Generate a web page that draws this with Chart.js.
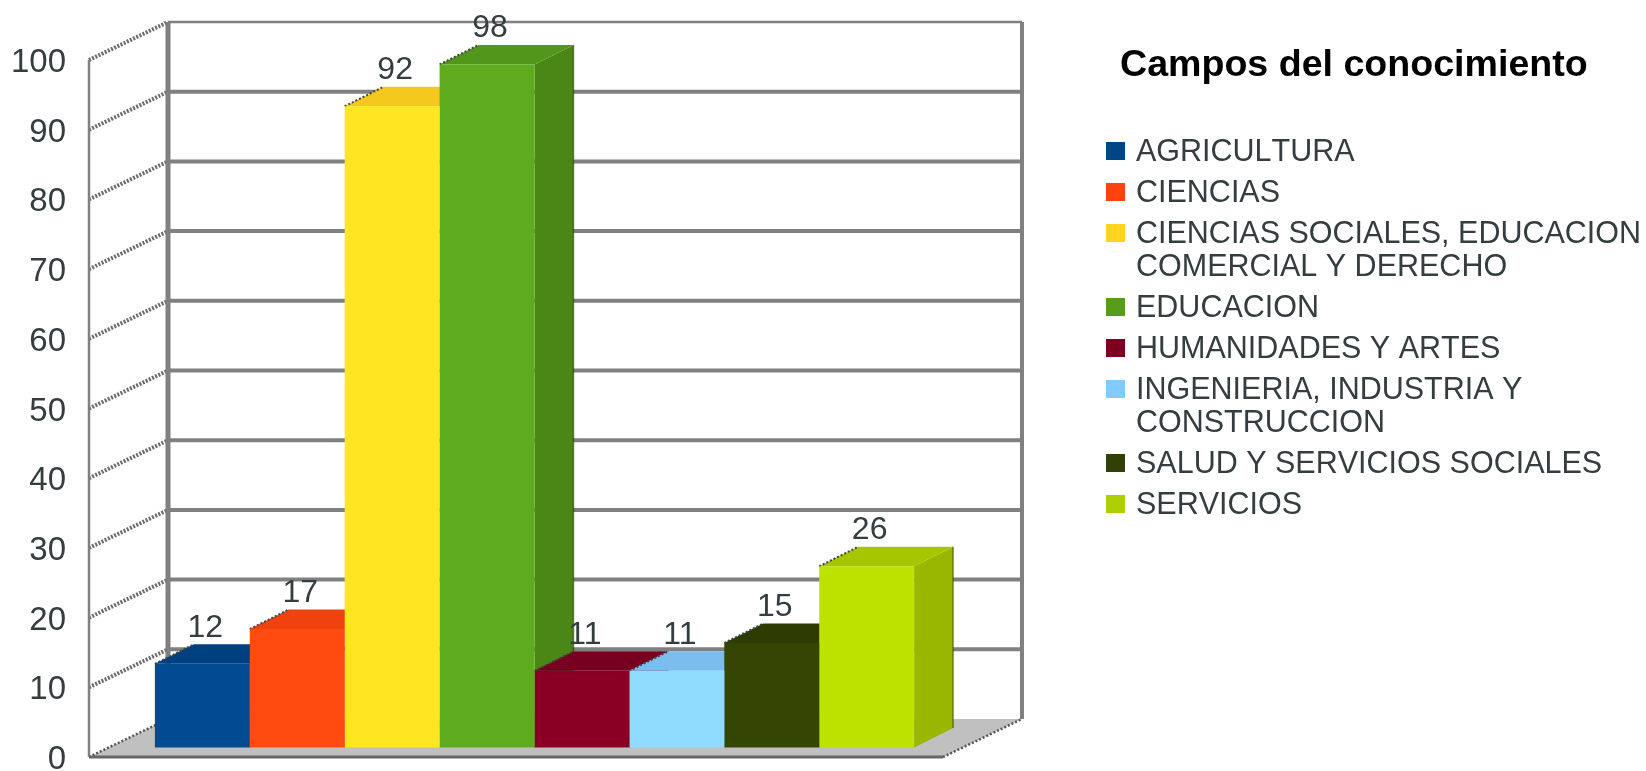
<!DOCTYPE html>
<html>
<head>
<meta charset="utf-8">
<style>html,body{margin:0;padding:0;background:#fff}canvas{display:block}</style>
<script src="https://cdn.jsdelivr.net/npm/chart.js@4/dist/chart.umd.min.js"></script>
</head>
<body>
<canvas id="c" width="1646" height="771"></canvas>
<script>
const categories = [""];
const seriesNames = [
  "AGRICULTURA",
  "CIENCIAS",
  "CIENCIAS SOCIALES, EDUCACION COMERCIAL Y DERECHO",
  "EDUCACION",
  "HUMANIDADES Y ARTES",
  "INGENIERIA, INDUSTRIA Y CONSTRUCCION",
  "SALUD Y SERVICIOS SOCIALES",
  "SERVICIOS"
];
const seriesValues = [12, 17, 92, 98, 11, 11, 15, 26];
const legendTitle = "Campos del conocimiento";
const legendLines = [
  ["AGRICULTURA"],
  ["CIENCIAS"],
  ["CIENCIAS SOCIALES, EDUCACION", "COMERCIAL Y DERECHO"],
  ["EDUCACION"],
  ["HUMANIDADES Y ARTES"],
  ["INGENIERIA, INDUSTRIA Y", "CONSTRUCCION"],
  ["SALUD Y SERVICIOS SOCIALES"],
  ["SERVICIOS"]
];
const frontColors  = ["#004b92","#ff4a10","#ffe620","#5fab1e","#890024","#90dcff","#354604","#bee200"];
const topColors    = ["#004080","#f0420e","#f5c81e","#52961b","#770020","#7cbdf0","#2e3c04","#a6c600"];
const sideColors   = ["#003b70","#d0380c","#d8b01a","#4a8717","#6a001c","#70aadd","#283403","#9ab700"];
const legendColors = ["#004586","#ff420e","#ffd320","#579d1c","#7e0021","#83caff","#314004","#aecf00"];

const FONT = '"Liberation Sans", Arial, sans-serif';
const TEXT = "#343d40";
const WALL = { dx: 79, dy: -38 };
const BAR_OFFSET = { dx: 18.5, dy: -9.5 };
const BAR_DEPTH = { dx: 39, dy: -19.5 };

function poly(ctx, pts, fill) {
  ctx.beginPath();
  pts.forEach((p, i) => i ? ctx.lineTo(p[0], p[1]) : ctx.moveTo(p[0], p[1]));
  ctx.closePath();
  ctx.fillStyle = fill;
  ctx.fill();
}
function line(ctx, x0, y0, x1, y1, color, width, dash) {
  ctx.save();
  ctx.beginPath();
  ctx.moveTo(x0, y0);
  ctx.lineTo(x1, y1);
  ctx.strokeStyle = color;
  ctx.lineWidth = width;
  ctx.setLineDash(dash || []);
  ctx.stroke();
  ctx.restore();
}

const scene3d = {
  id: "scene3d",
  beforeDatasetsDraw(chart) {
    const ctx = chart.ctx, a = chart.chartArea, y = chart.scales.y;
    const y0 = y.getPixelForValue(0);
    poly(ctx, [[a.left, y0], [a.left + WALL.dx, y0 + WALL.dy], [a.right + WALL.dx, y0 + WALL.dy], [a.right, y0]], "#c0c0c0");
    y.ticks.forEach(t => {
      const py = y.getPixelForValue(t.value);
      if (t.value > 0) {
        const isTop = t.value === y.max;
        line(ctx, a.left + WALL.dx, py + WALL.dy, a.right + WALL.dx, py + WALL.dy, "#808080", isTop ? 2.5 : 4);
        line(ctx, a.left, py, a.left + WALL.dx, py + WALL.dy, "#6a6a6a", 4, [2, 1.5]);
      } else {
        line(ctx, a.left, py, a.left + WALL.dx, py + WALL.dy, "#555555", 2.5, [2, 2]);
        line(ctx, a.right, py, a.right + WALL.dx, py + WALL.dy, "#555555", 2.5, [2, 2]);
      }
    });
    line(ctx, a.left + WALL.dx, y.getPixelForValue(100) + WALL.dy, a.left + WALL.dx, y0 + WALL.dy, "#808080", 5);
    line(ctx, a.right + WALL.dx, y.getPixelForValue(100) + WALL.dy, a.right + WALL.dx, y0 + WALL.dy, "#808080", 4);
    line(ctx, a.left, y.getPixelForValue(100), a.left, y0, "#808080", 2.5);
    line(ctx, a.left, y0, a.right, y0, "#666666", 3);

    ctx.save();
    ctx.translate(BAR_OFFSET.dx, BAR_OFFSET.dy);
    seriesValues.forEach((v, i) => {
      const b = chart.getDatasetMeta(i).data[0];
      const l = b.x - b.width / 2, r = b.x + b.width / 2;
      const d = BAR_DEPTH;
      poly(ctx, [[r, b.y], [r + d.dx, b.y + d.dy], [r + d.dx, b.base + d.dy], [r, b.base]], sideColors[i]);
      poly(ctx, [[l, b.y], [l + d.dx, b.y + d.dy], [r + d.dx, b.y + d.dy], [r, b.y]], topColors[i]);
      line(ctx, r + d.dx, b.y + d.dy, r + d.dx, b.base + d.dy, "rgba(40,50,0,0.55)", 1.5);
      line(ctx, l, b.y, l + d.dx, b.y + d.dy, "#444444", 2, [2, 2]);
    });
    ctx.restore();
    ctx.save();
    ctx.translate(BAR_OFFSET.dx, BAR_OFFSET.dy);
  },
  afterDatasetsDraw(chart) {
    const ctx = chart.ctx;
    ctx.restore();
    ctx.save();
    ctx.font = "32px " + FONT;
    ctx.fillStyle = TEXT;
    ctx.textAlign = "center";
    ctx.textBaseline = "middle";
    seriesValues.forEach((v, i) => {
      const b = chart.getDatasetMeta(i).data[0];
      ctx.fillText(String(v), b.x + BAR_OFFSET.dx + 3, b.y + BAR_OFFSET.dy - 36);
    });
    ctx.restore();
    ctx.save();
    ctx.textBaseline = "middle";
    ctx.textAlign = "left";
    ctx.fillStyle = "#000000";
    ctx.font = "bold 37.6px " + FONT;
    ctx.fillText(legendTitle, 1120, 66);
    ctx.fontKerning = "none";
    ctx.font = "30.5px " + FONT;
    let yy = 151;
    legendLines.forEach((lines, i) => {
      ctx.fillStyle = legendColors[i];
      ctx.fillRect(1106, yy - 9, 19, 18);
      ctx.fillStyle = TEXT;
      lines.forEach((t, k) => {
        ctx.fillText(t, 1136, yy + 2 + k * 33);
      });
      yy += 41 + (lines.length - 1) * 33;
    });
    ctx.restore();
  }
};

new Chart(document.getElementById("c"), {
  type: "bar",
  data: {
    labels: categories,
    datasets: seriesNames.map((name, i) => ({
      label: name,
      data: [seriesValues[i]],
      backgroundColor: frontColors[i],
      borderWidth: 0,
      categoryPercentage: 0.889,
      barPercentage: 1,
      clip: false
    }))
  },
  options: {
    responsive: false,
    animation: false,
    devicePixelRatio: 1,
    layout: { padding: { left: 0, right: 703, top: 60, bottom: 14 } },
    plugins: { legend: { display: false }, title: { display: false }, tooltip: { enabled: false } },
    scales: {
      x: { display: false },
      y: {
        min: 0, max: 100,
        border: { display: false },
        grid: { display: false, drawTicks: false },
        afterFit(s) { s.width = 89; s.paddingTop = 0; s.paddingBottom = 0; },
        ticks: {
          stepSize: 10,
          padding: 23,
          labelOffset: 3,
          color: TEXT,
          font: { family: FONT, size: 33 }
        }
      }
    }
  },
  plugins: [scene3d]
});
</script>
</body>
</html>
